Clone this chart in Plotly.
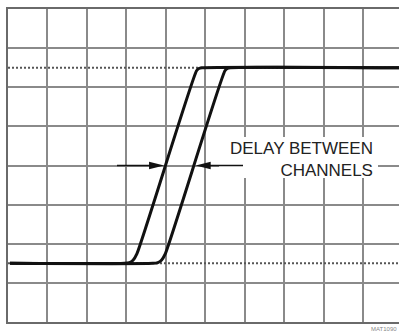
import numpy as np
import plotly.graph_objects as go

# Screen is 10 horizontal x 8 vertical divisions; values are in divisions.
# Channel 1 and channel 2 step responses (low level 1.5 div, high level 6.5 div)
ch1_x = [0.05, 2.95, 3.08, 3.17, 3.27, 4.78, 4.84, 4.92, 9.92]
ch1_y = [1.5, 1.5, 1.52, 1.58, 1.75, 6.42, 6.48, 6.5, 6.5]
ch2_x = [0.05, 3.67, 3.80, 3.89, 3.99, 5.50, 5.56, 5.64, 9.92]
ch2_y = [1.5, 1.5, 1.52, 1.58, 1.75, 6.42, 6.48, 6.5, 6.5]

levels = [1.5, 6.5]          # dotted reference levels
measure_level = 4.0          # where the delay is marked
label_lines = ["DELAY BETWEEN", "CHANNELS"]
fig_id = "MAT1090"

W, H = 399, 333
ML, MT, MB = 8, 9, 11
DIV_PX = 39.44
X_MAX = (W - ML) / DIV_PX
Y_DIV_PX = (H - MT - MB) / 8


def px_x(p):
    """Horizontal pixel -> division units."""
    return (p - ML) / DIV_PX


def px_y(p):
    """Vertical pixel -> division units."""
    return (H - MB - p) / Y_DIV_PX


fig = go.Figure()

# dotted reference levels
for lv in levels:
    fig.add_trace(go.Scatter(
        x=[0, X_MAX], y=[lv, lv], mode="lines",
        line=dict(color="#555555", width=2, dash="2px,2px"),
        hoverinfo="skip", showlegend=False))

for xs, ys in ((ch1_x, ch1_y), (ch2_x, ch2_y)):
    fig.add_trace(go.Scatter(
        x=xs, y=ys, mode="lines",
        line=dict(color="#111111", width=3, shape="spline", smoothing=0.6),
        hoverinfo="skip", showlegend=False))

# crossing points of each edge at the measurement level
rise = slice(3, 6)
t1 = float(np.interp(measure_level, ch1_y[rise], ch1_x[rise]))
t2 = float(np.interp(measure_level, ch2_y[rise], ch2_x[rise]))
edge_off = 1.6 / DIV_PX
tip1 = t1 - edge_off
tip2 = t2 + edge_off

shapes = [
    # white backing behind the label
    dict(type="rect", xref="x", yref="y", layer="above",
         x0=px_x(219), x1=px_x(378), y0=px_y(178), y1=px_y(137),
         fillcolor="white", line=dict(width=0)),
    # arrow shafts
    dict(type="line", xref="x", yref="y", layer="above",
         x0=px_x(117), x1=tip1 - 10 / DIV_PX, y0=measure_level, y1=measure_level,
         line=dict(color="#111111", width=1.5)),
    dict(type="line", xref="x", yref="y", layer="above",
         x0=tip2 + 10 / DIV_PX, x1=px_x(243), y0=measure_level, y1=measure_level,
         line=dict(color="#111111", width=1.5)),
    # arrow heads
    dict(type="path", xref="x", yref="y", layer="above",
         xsizemode="pixel", ysizemode="pixel", xanchor=tip1, yanchor=measure_level,
         path="M0,0 L-15,3.8 L-15,-3.8 Z", fillcolor="#111111", line=dict(width=0)),
    dict(type="path", xref="x", yref="y", layer="above",
         xsizemode="pixel", ysizemode="pixel", xanchor=tip2, yanchor=measure_level,
         path="M0,0 L15,3.8 L15,-3.8 Z", fillcolor="#111111", line=dict(width=0)),
]

font = dict(family="Liberation Sans, Arial, sans-serif", size=17, color="#222222")
annotations = [
    dict(x=px_x(375), y=px_y(159), xref="x", yref="y",
         text="<br>".join(label_lines), align="right",
         showarrow=False, xanchor="right", yanchor="middle", font=font),
    dict(x=1.0, y=0, xref="paper", yref="paper", text=fig_id, showarrow=False,
         xanchor="right", yanchor="top", yshift=-2,
         font=dict(family="Liberation Sans, Arial, sans-serif", size=6, color="#888888")),
]

grid = dict(showgrid=True, gridcolor="#8a8a8a", gridwidth=1.5, zeroline=False,
            showticklabels=False, ticks="", dtick=1, tick0=0, fixedrange=True)

fig.update_layout(
    width=W, height=H,
    margin=dict(l=ML, r=0, t=MT, b=MB),
    paper_bgcolor="white", plot_bgcolor="white",
    xaxis=dict(range=[0, X_MAX], showline=True, mirror=True,
               linecolor="#6a6a6a", linewidth=1.5, **grid),
    yaxis=dict(range=[0, 8], showline=True, linecolor="#6a6a6a", linewidth=1.5, **grid),
    shapes=shapes, annotations=annotations,
)

fig.write_html("out.html")
